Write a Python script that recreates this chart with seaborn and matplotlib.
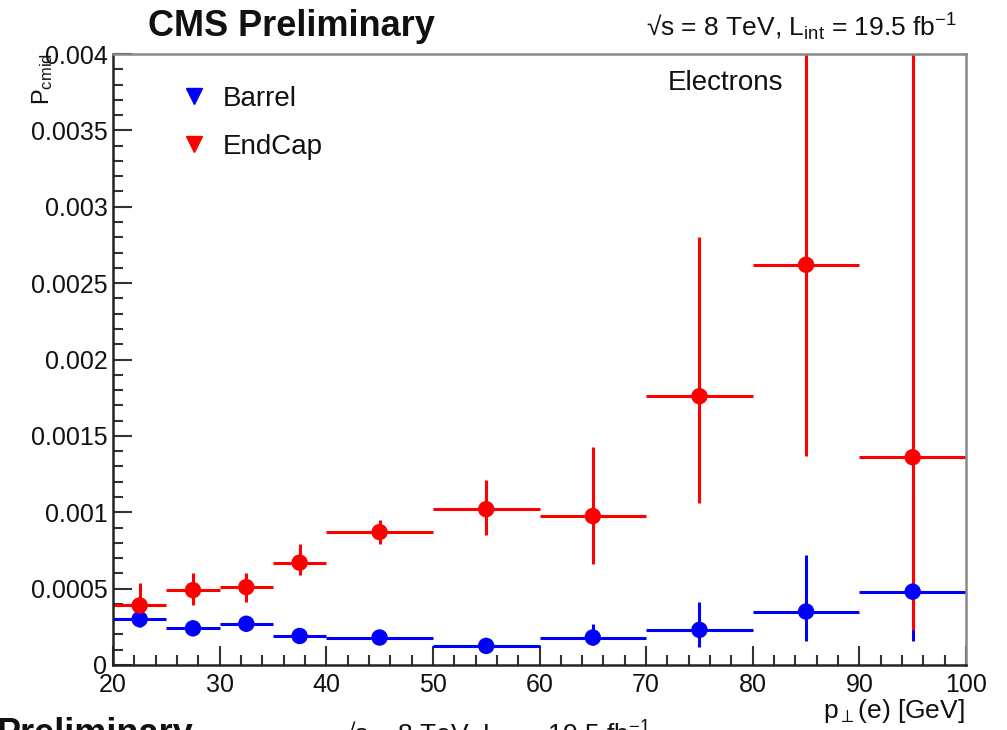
import numpy as np
import pandas as pd
import matplotlib
matplotlib.use("Agg")
import matplotlib.pyplot as plt
from matplotlib.lines import Line2D
from matplotlib.ticker import MultipleLocator, FixedLocator, FixedFormatter
import seaborn as sns

# ---------------- data ----------------
bin_lo = [20, 25, 30, 35, 40, 50, 60, 70, 80, 90]
bin_hi = [25, 30, 35, 40, 50, 60, 70, 80, 90, 100]

barrel_val = [0.00030, 0.00024, 0.00027, 0.00019, 0.00018, 0.000125, 0.00018, 0.00023, 0.00035, 0.00048]
barrel_lo  = [0.00025, 0.00022, 0.00024, 0.00017, 0.00016, 0.00010, 0.00013, 0.00012, 0.00016, 0.00016]
barrel_hi  = [0.00035, 0.00026, 0.00030, 0.00021, 0.00020, 0.00015, 0.00027, 0.00041, 0.00072, 0.00111]

endcap_val = [0.00039, 0.00049, 0.00051, 0.00067, 0.00087, 0.00102, 0.000975, 0.00176, 0.00262, 0.00136]
endcap_lo  = [0.00028, 0.00039, 0.00041, 0.00059, 0.00079, 0.00085, 0.00066, 0.00106, 0.00137, 0.00023]
endcap_hi  = [0.00054, 0.00060, 0.00060, 0.00079, 0.00095, 0.00121, 0.00143, 0.00280, 0.00460, 0.00520]

series_names = ["Barrel", "EndCap"]
series_colors = ["#0000ff", "#ff0000"]

y_ticks = [0, 0.0005, 0.001, 0.0015, 0.002, 0.0025, 0.003, 0.0035, 0.004]
y_tick_labels = ["0", "0.0005", "0.001", "0.0015", "0.002", "0.0025", "0.003", "0.0035", "0.004"]
x_ticks = [20, 30, 40, 50, 60, 70, 80, 90, 100]
x_tick_labels = ["20", "30", "40", "50", "60", "70", "80", "90", "100"]

header_left = "CMS Preliminary"
header_right = r"√s = 8 TeV, L$_{int}$ = 19.5 fb$^{-1}$"

# ---------------- style ----------------
sns.set_style("ticks")
plt.rcParams["font.family"] = ["Liberation Sans", "DejaVu Sans"]
plt.rcParams["mathtext.fontset"] = "custom"
plt.rcParams["mathtext.rm"] = "Liberation Sans"
plt.rcParams["mathtext.it"] = "Liberation Sans:italic"
plt.rcParams["mathtext.bf"] = "Liberation Sans:bold"
plt.rcParams["mathtext.default"] = "regular"
plt.rcParams["text.color"] = "#111111"

W, H = 1007, 730
fig = plt.figure(figsize=(W / 100, H / 100), dpi=100)
L, R, T, B = 113, 966, 54, 665
ax = fig.add_axes([L / W, 1 - B / H, (R - L) / W, (B - T) / H])

rows = []
for name, vals, lo, hi in [("Barrel", barrel_val, barrel_lo, barrel_hi),
                           ("EndCap", endcap_val, endcap_lo, endcap_hi)]:
    for a, b, v, l, h in zip(bin_lo, bin_hi, vals, lo, hi):
        rows.append(dict(series=name, x=(a + b) / 2, xlo=a, xhi=b, y=v, ylo=l, yhi=h))
df = pd.DataFrame(rows)

for name, col in zip(series_names, series_colors):
    d = df[df.series == name]
    ax.errorbar(d.x, d.y,
                xerr=[d.x - d.xlo, d.xhi - d.x],
                yerr=[d.y - d.ylo, d.yhi - d.y],
                fmt="none", ecolor=col, elinewidth=2.2, capsize=0, zorder=2)
    sns.scatterplot(data=d, x="x", y="y", color=col, s=140, marker="o",
                    edgecolor="none", ax=ax, zorder=3, legend=False)

ax.set_xlim(20, 100)
ax.set_ylim(0, 0.004)
ax.set_xlabel("")
ax.set_ylabel("")

ax.xaxis.set_major_locator(FixedLocator(x_ticks))
ax.xaxis.set_major_formatter(FixedFormatter(x_tick_labels))
ax.xaxis.set_minor_locator(MultipleLocator(2))
ax.yaxis.set_major_locator(FixedLocator(y_ticks))
ax.yaxis.set_major_formatter(FixedFormatter(y_tick_labels))
ax.yaxis.set_minor_locator(MultipleLocator(0.0001))

ax.tick_params(axis="both", which="both", direction="in", top=False, right=False,
               color="#333333", width=1.5, labelcolor="#111111")
ax.tick_params(axis="both", which="major", labelsize=18, length=14)
ax.tick_params(axis="both", which="minor", length=7)
ax.tick_params(axis="x", which="major", pad=6)
ax.tick_params(axis="y", which="major", pad=4)

for s in ["left", "bottom"]:
    ax.spines[s].set_color("#222222")
    ax.spines[s].set_linewidth(1.8)
for s in ["top", "right"]:
    ax.spines[s].set_color("#888888")
    ax.spines[s].set_linewidth(1.8)

# legend
handles = [Line2D([], [], linestyle="none", marker="v", markersize=11,
                  color=c, markeredgecolor=c) for c in series_colors]
ax.legend(handles, series_names, loc="upper left", bbox_to_anchor=(0.062, 0.966),
          frameon=False, fontsize=20, handletextpad=0.45, labelspacing=0.78,
          handlelength=1.2, borderaxespad=0)

ax.text((668 - L) / (R - L), (B - 83) / (B - T), "Electrons", transform=ax.transAxes,
        fontsize=20, ha="left", va="center")

# headers
fig.text(148 / W, 1 - 26 / H, header_left, fontsize=26, fontweight="bold",
         ha="left", va="center")
fig.text(957 / W, 1 - 36 / H, header_right, fontsize=19, ha="right", va="baseline")

# axis titles
fig.text(43 / W, 1 - 53 / H, r"P$_{cmid}$", fontsize=17, rotation=90,
         ha="center", va="top")
fig.text(965 / W, 1 - 711 / H, r"p$_{\perp}$(e) [GeV]", fontsize=19,
         ha="right", va="center")

# clipped header of the next panel at the bottom edge
fig.text(-3 / W, 1 - 717 / H, "Preliminary", fontsize=26, fontweight="bold",
         ha="left", va="top")
fig.text(340 / W, 1 - 719 / H, header_right, fontsize=19, ha="left", va="top")

fig.savefig("out.png", dpi=100)
